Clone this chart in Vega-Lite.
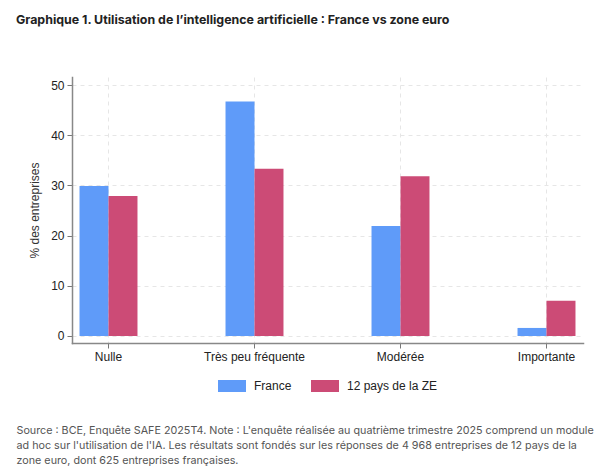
{
  "$schema": "https://vega.github.io/schema/vega-lite/v6.json",
  "width": 511,
  "height": 266,
  "autosize": "none",
  "padding": {"left": 72, "top": 77, "right": 17, "bottom": 132},
  "background": "white",
  "title": {
    "text": "Graphique 1. Utilisation de l’intelligence artificielle : France vs zone euro",
    "anchor": "start",
    "frame": "group",
    "dx": -56,
    "offset": 51,
    "font": "Inter",
    "fontSize": 12.4,
    "fontWeight": "bold",
    "color": "#222222"
  },
  "data": {
    "values": [
      {"categorie": "Nulle", "serie": "France", "valeur": 29.9},
      {"categorie": "Nulle", "serie": "12 pays de la ZE", "valeur": 27.9},
      {"categorie": "Très peu fréquente", "serie": "France", "valeur": 46.7},
      {"categorie": "Très peu fréquente", "serie": "12 pays de la ZE", "valeur": 33.3},
      {"categorie": "Modérée", "serie": "France", "valeur": 21.9},
      {"categorie": "Modérée", "serie": "12 pays de la ZE", "valeur": 31.8},
      {"categorie": "Importante", "serie": "France", "valeur": 1.6},
      {"categorie": "Importante", "serie": "12 pays de la ZE", "valeur": 7.0}
    ]
  },
  "mark": {"type": "bar"},
  "encoding": {
    "x": {
      "field": "categorie",
      "type": "nominal",
      "sort": ["Nulle", "Très peu fréquente", "Modérée", "Importante"],
      "scale": {"paddingInner": 0.603, "paddingOuter": 0.0515},
      "axis": {
        "title": [
          "Source : BCE, Enquête SAFE 2025T4. Note : L'enquête réalisée au quatrième trimestre 2025 comprend un module",
          "ad hoc sur l'utilisation de l'IA. Les résultats sont fondés sur les réponses de 4 968 entreprises de 12 pays de la",
          "zone euro, dont 625 entreprises françaises."
        ],
        "titleX": -56,
        "titleY": 82.7,
        "titleAlign": "left",
        "titleAnchor": "start",
        "titleBaseline": "top",
        "titleFont": "Inter",
        "titleFontSize": 10.75,
        "titleFontWeight": "normal",
        "titleColor": "#555555",
        "titleLineHeight": 15,
        "labelAngle": 0,
        "labelFont": "Liberation Sans",
        "labelFontSize": 12,
        "labelColor": "#222222",
        "labelPadding": 3,
        "tickSize": 5,
        "tickColor": "#777777",
        "domainColor": "#888888",
        "domainWidth": 1.5,
        "bandPosition": 0.5,
        "grid": true,
        "gridColor": "#e6e6e6",
        "gridDash": [4, 4]
      }
    },
    "xOffset": {
      "field": "serie",
      "type": "nominal",
      "sort": ["France", "12 pays de la ZE"],
      "scale": {"paddingInner": 0, "paddingOuter": 0}
    },
    "y": {
      "field": "valeur",
      "type": "quantitative",
      "scale": {"domain": [-1.4, 51.6], "zero": false, "nice": false},
      "axis": {
        "title": "% des entreprises",
        "titleFont": "Liberation Sans",
        "titleFontSize": 12,
        "titleFontWeight": "normal",
        "titleColor": "#333333",
        "titlePadding": 9,
        "values": [0, 10, 20, 30, 40, 50],
        "labelFont": "Liberation Sans",
        "labelFontSize": 12,
        "labelColor": "#222222",
        "labelPadding": 3,
        "tickSize": 5,
        "tickColor": "#777777",
        "domainColor": "#888888",
        "domainWidth": 1.5,
        "grid": true,
        "gridColor": "#e6e6e6",
        "gridDash": [4, 4]
      }
    },
    "y2": {"datum": 0},
    "color": {
      "field": "serie",
      "type": "nominal",
      "sort": ["France", "12 pays de la ZE"],
      "scale": {"domain": ["France", "12 pays de la ZE"], "range": ["#5F9BF9", "#CC4B76"]},
      "legend": {
        "title": null,
        "orient": "none",
        "legendX": 146,
        "legendY": 294.5,
        "direction": "horizontal",
        "columns": 2,
        "columnPadding": 19,
        "symbolType": "M-1,-0.43H1V0.43H-1Z",
        "symbolSize": 784,
        "symbolStrokeWidth": 0,
        "symbolOpacity": 1,
        "labelFont": "Liberation Sans",
        "labelFontSize": 12,
        "labelColor": "#222222",
        "labelOffset": 8
      }
    }
  },
  "config": {
    "view": {"stroke": null},
    "axis": {"domainCap": "square"}
  }
}
